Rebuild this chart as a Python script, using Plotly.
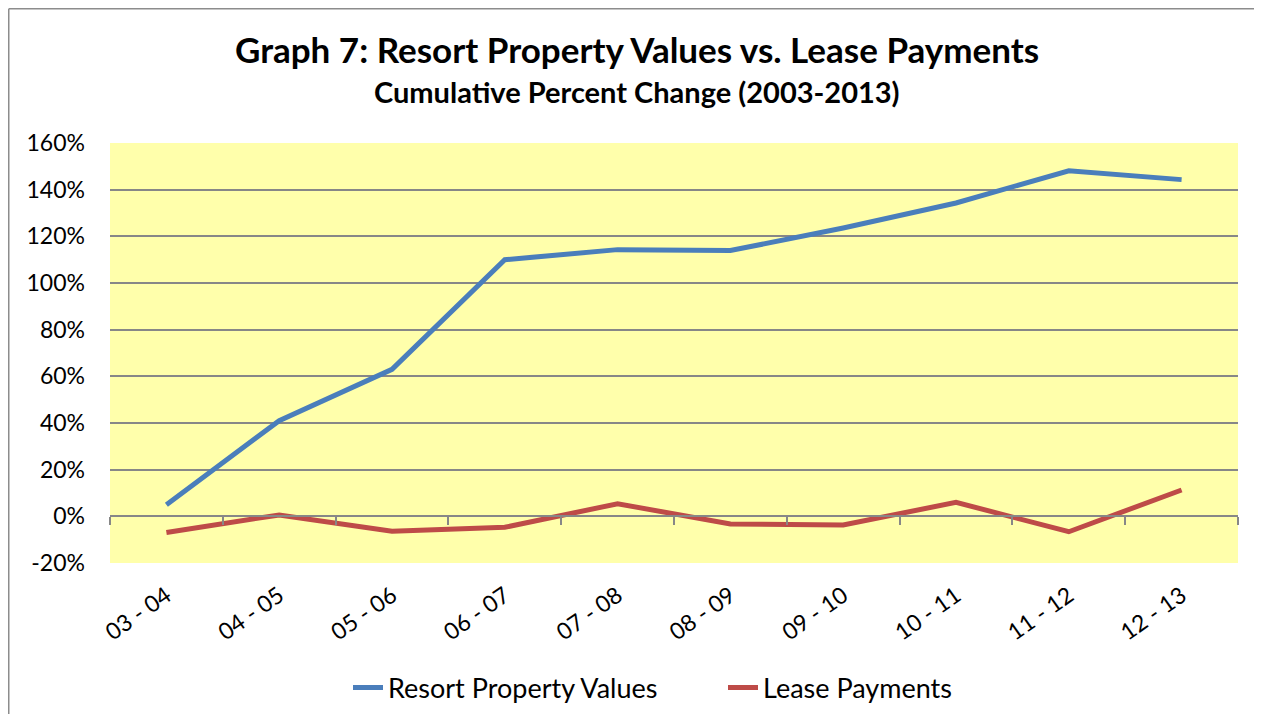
import plotly.graph_objects as go

categories = ["03 - 04", "04 - 05", "05 - 06", "06 - 07", "07 - 08",
              "08 - 09", "09 - 10", "10 - 11", "11 - 12", "12 - 13"]
resort_values = [5.0, 41.0, 63.0, 110.0, 114.3, 113.9, 123.6, 134.3, 148.1, 144.3]
lease_payments = [-6.9, 0.6, -6.4, -4.7, 5.4, -3.3, -3.7, 6.0, -6.6, 11.3]
y_tick_vals = [-20, 0, 20, 40, 60, 80, 100, 120, 140, 160]
y_tick_text = ["-20%", "0%", "20%", "40%", "60%", "80%", "100%", "120%", "140%", "160%"]

FONT = "Lato"
# the page body adds an 8px offset; figure coords = page coords - 8
W, H = 1246, 706
ML, MT = 102, 135
PW, PH = 1128, 420
MR = W - ML - PW
MB = H - MT - PH
y_min, y_max = -20, 160

def px_x(fx):
    return (fx - ML) / PW

def px_y(fy):
    return (MT + PH - fy) / PH

fig = go.Figure()
fig.add_trace(go.Scatter(x=categories, y=resort_values, mode="lines",
                         name="Resort Property Values", legend="legend",
                         line=dict(color="#4A7EBB", width=5)))
fig.add_trace(go.Scatter(x=categories, y=lease_payments, mode="lines",
                         name="Lease Payments", legend="legend2",
                         line=dict(color="#BE4B48", width=5)))
# invisible trace to carry the zero-line category axis
fig.add_trace(go.Scatter(x=[0], y=[None], xaxis="x2", showlegend=False,
                         hoverinfo="skip", mode="lines"))

zero_pos = (0 - y_min) / (y_max - y_min)
n = len(categories)

legend_common = dict(orientation="h", yanchor="middle", xanchor="left",
                     xref="container", yref="container",
                     font=dict(size=27, family=FONT), bgcolor="rgba(0,0,0,0)",
                     itemwidth=30)

fig.update_layout(
    width=W, height=H,
    margin=dict(l=ML, r=MR, t=MT, b=MB, autoexpand=False),
    paper_bgcolor="white",
    plot_bgcolor="#FFFFAB",
    font=dict(family=FONT, color="#000000"),
    showlegend=True,
    legend=dict(x=340 / W, y=1 - 680 / H, **legend_common),
    legend2=dict(x=715 / W, y=1 - 680 / H, **legend_common),
    xaxis=dict(type="category", range=[-0.5, n - 0.5], showgrid=False,
               showline=False, ticks="", tickangle=-35, ticklabelstandoff=14,
               tickfont=dict(size=23, family=FONT), zeroline=False,
               automargin=False),
    xaxis2=dict(type="linear", overlaying="x", anchor="free",
                position=zero_pos, range=[-0.5, n - 0.5],
                tickvals=[i - 0.5 for i in range(n + 1)],
                showticklabels=False, ticks="outside", ticklen=8,
                tickcolor="#878787", tickwidth=1.8,
                showline=True, linecolor="#878787", linewidth=2,
                showgrid=False, zeroline=False, automargin=False),
    yaxis=dict(range=[y_min, y_max], tickvals=y_tick_vals, ticktext=y_tick_text,
               showgrid=True, gridcolor="#878787", gridwidth=2,
               zeroline=False, showline=False, ticks="",
               tickfont=dict(size=23, family=FONT), ticklabelstandoff=24,
               automargin=False),
    annotations=[
        dict(text="<b>Graph 7: Resort Property Values vs. Lease Payments</b>",
             xref="paper", yref="paper", x=px_x(629), y=px_y(41),
             xanchor="center", yanchor="middle", showarrow=False,
             font=dict(size=35, family=FONT, color="#000000")),
        dict(text="<b>Cumulative Percent Change (2003-2013)</b>",
             xref="paper", yref="paper", x=px_x(629), y=px_y(83),
             xanchor="center", yanchor="middle", showarrow=False,
             font=dict(size=29, family=FONT, color="#000000")),
    ],
    shapes=[
        dict(type="line", xref="paper", yref="paper",
             x0=px_x(0.75), x1=px_x(0.75), y0=px_y(0.75), y1=px_y(H),
             line=dict(color="#8C8C8C", width=1.5)),
        dict(type="line", xref="paper", yref="paper",
             x0=px_x(0.75), x1=px_x(W), y0=px_y(0.75), y1=px_y(0.75),
             line=dict(color="#8C8C8C", width=1.5)),
    ],
)

fig.write_html("out.html", config={"displayModeBar": False})
